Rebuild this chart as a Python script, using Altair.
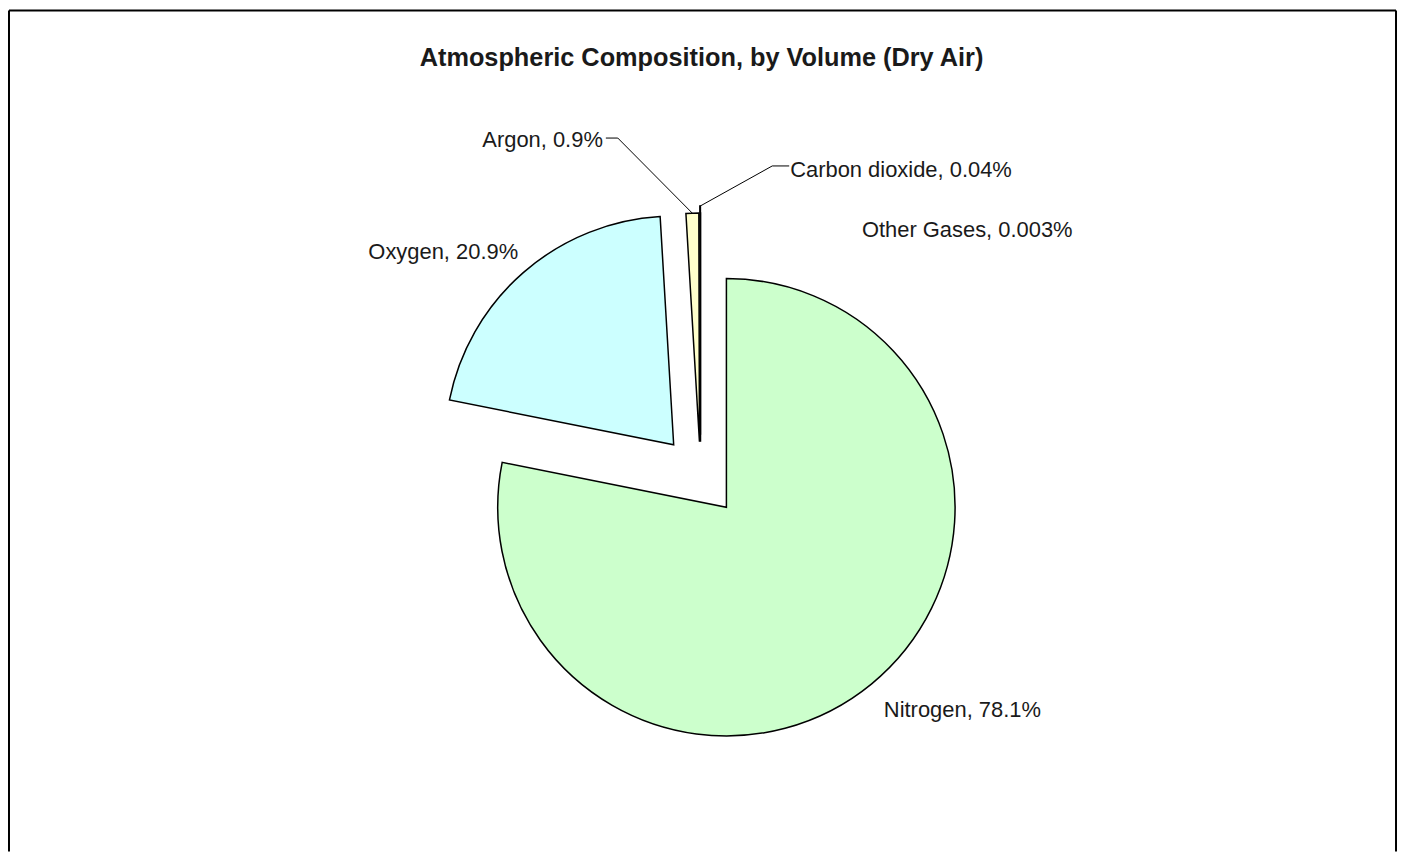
import altair as alt
import pandas as pd

# ---- data ----
gases = ["Nitrogen", "Oxygen", "Argon", "Carbon dioxide", "Other Gases"]
percent = [78.1, 20.9, 0.9, 0.04, 0.003]
colors = ["#CCFFCC", "#CCFFFF", "#FFFFCC", "#FFFFFF", "#FFFFFF"]

# ---- layout (page pixels; converted to view pixels below) ----
OX, OY = 10, 10  # page position of the view origin (8px body margin + 2px padding)
explode = [41, 41, 34, 41, 34]
label_x = [887, 520, 605, 793, 865]
label_y = [718, 258, 146, 176, 236]
label_align = ["left", "right", "right", "left", "left"]
leader_start = [None, None, 608, 792, None]
leader_elbow = [None, None, 620, 775, None]
leader_y = [None, None, 137, 165, None]

W, H = 1393, 843
CX, CY, R = 703.0 - OX, 475.8 - OY, 229.5


def to_view(vals, off):
    return [None if v is None else v - off for v in vals]


df = pd.DataFrame({
    "order": list(range(len(gases))),
    "gas": gases,
    "percent": percent,
    "explode": explode,
    "lx": to_view(label_x, OX),
    "ly": to_view(label_y, OY),
    "align": label_align,
    "hs": to_view(leader_start, OX),
    "he": to_view(leader_elbow, OX),
    "hy": to_view(leader_y, OY),
})

base = (
    alt.Chart(df)
    .transform_joinaggregate(total="sum(percent)")
    .transform_window(cum="sum(percent)", sort=[alt.SortField("order")], frame=[None, 0])
    .transform_calculate(
        t0="(datum.cum - datum.percent) / datum.total * 2 * PI",
        t1="datum.cum / datum.total * 2 * PI",
    )
    .transform_calculate(mid="(datum.t0 + datum.t1) / 2")
    .transform_calculate(
        cx=f"{CX} + datum.explode * sin(datum.mid)",
        cy=f"{CY} - datum.explode * cos(datum.mid)",
    )
    .transform_calculate(
        ex=f"datum.cx + {R} * sin(datum.mid)",
        ey=f"datum.cy - {R} * cos(datum.mid)",
        label="datum.gas + ', ' + datum.percent + '%'",
    )
)

X = lambda f: alt.X(f, type="quantitative", scale=None, axis=None)
Y = lambda f: alt.Y(f, type="quantitative", scale=None, axis=None)

pie = base.mark_arc(radius=R, stroke="black", strokeWidth=1.5, strokeJoin="miter").encode(
    x=X("cx"),
    y=Y("cy"),
    theta=alt.Theta("t0:Q", scale=None, stack=None),
    theta2="t1:Q",
    fill=alt.Fill("gas:N", scale=alt.Scale(domain=gases, range=colors), legend=None),
)

text_style = dict(font="Liberation Sans", fontSize=22, color="#1a1a1a", baseline="alphabetic")
labels_left = base.transform_filter("datum.align == 'left'").mark_text(align="left", **text_style).encode(
    x=X("lx"), y=Y("ly"), text="label:N")
labels_right = base.transform_filter("datum.align == 'right'").mark_text(align="right", **text_style).encode(
    x=X("lx"), y=Y("ly"), text="label:N")

leaders = base.transform_filter("isValid(datum.hs)")
lead_h = leaders.mark_rule(color="black", strokeWidth=1).encode(x=X("hs"), x2="he:Q", y=Y("hy"))
lead_d = leaders.mark_rule(color="black", strokeWidth=1).encode(x=X("he"), y=Y("hy"), x2="ex:Q", y2="ey:Q")

dummy = pd.DataFrame({"a": [0]})
title = alt.Chart(dummy).mark_text(
    text="Atmospheric Composition, by Volume (Dry Air)", font="Liberation Sans",
    fontSize=25.4, fontWeight="bold", color="#1a1a1a", align="center", baseline="alphabetic",
).encode(x=alt.value(704 - OX), y=alt.value(65 - OY))

FL, FT, FR = 9 - OX, 9 - OY, 1401 - OX
frame_l = alt.Chart(dummy).mark_rule(color="black", strokeWidth=2).encode(
    x=alt.value(FL), y=alt.value(FT), y2=alt.value(H))
frame_t = alt.Chart(dummy).mark_rule(color="black", strokeWidth=2).encode(
    x=alt.value(FL), x2=alt.value(FR), y=alt.value(FT))
frame_r = alt.Chart(dummy).mark_rule(color="black", strokeWidth=2).encode(
    x=alt.value(FR), y=alt.value(FT), y2=alt.value(H))

chart = alt.layer(
    pie, lead_h, lead_d, labels_left, labels_right, title, frame_l, frame_t, frame_r
).properties(
    width=W, height=H,
    padding={"left": 2, "top": 2, "right": 0, "bottom": 0},
    autosize=alt.AutoSizeParams(type="none"),
).configure_view(stroke=None)

chart.save("out.html", embed_options={"renderer": "svg", "actions": False})
